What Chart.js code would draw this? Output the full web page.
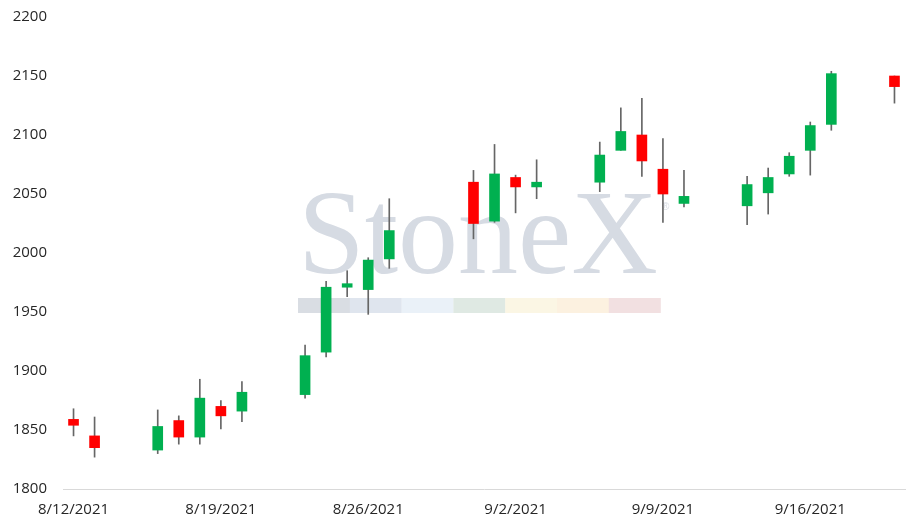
<!DOCTYPE html>
<html>
<head>
<meta charset="utf-8">
<script src="https://cdn.jsdelivr.net/npm/chart.js@4.4.0/dist/chart.umd.min.js"></script>
<style>
  html, body { margin: 0; padding: 0; background: #fff; }
  canvas { display: block; }
</style>
</head>
<body>
<canvas id="candleChart" width="920" height="529"></canvas>
<script>
// ===================
// Dados (dias de pregão)
// ===================
const dates = [
  "8/12/2021", "8/13/2021",
  "8/16/2021", "8/17/2021", "8/18/2021", "8/19/2021", "8/20/2021",
  "8/23/2021", "8/24/2021", "8/25/2021", "8/26/2021", "8/27/2021",
  "8/31/2021", "9/1/2021", "9/2/2021", "9/3/2021",
  "9/6/2021", "9/7/2021", "9/8/2021", "9/9/2021", "9/10/2021",
  "9/13/2021", "9/14/2021", "9/15/2021", "9/16/2021", "9/17/2021",
  "9/20/2021",
];
const openV = [1859, 1845, 1833, 1858, 1844, 1870, 1866, 1880, 1916, 1971, 1969, 1995,
  2060, 2027, 2064, 2056, 2060, 2087, 2100, 2071, 2042, 2040, 2051, 2067, 2087, 2109, 2150];
const highV = [1868, 1861, 1867, 1862, 1893, 1875, 1891, 1922, 1976, 1985, 1996, 2046,
  2070, 2092, 2066, 2079, 2094, 2123, 2131, 2097, 2070, 2065, 2072, 2085, 2111, 2154, 2150];
const lowV = [1845, 1827, 1830, 1838, 1838, 1851, 1857, 1877, 1912, 1963, 1948, 1987,
  2012, 2026, 2034, 2046, 2052, 2087, 2065, 2026, 2039, 2024, 2033, 2065, 2066, 2104, 2127];
const closeV = [1854, 1835, 1853, 1844, 1877, 1862, 1882, 1913, 1971, 1974, 1994, 2019,
  2025, 2067, 2056, 2060, 2083, 2103, 2078, 2050, 2048, 2058, 2064, 2082, 2108, 2152, 2141];

const yTicks = { min: 1800, max: 2200, step: 50 };
const labelEvery = 7;

// eixo de calendário: todos os dias entre o primeiro e o último pregão
const fmt = (d) => d.getMonth() + 1 + "/" + d.getDate() + "/" + d.getFullYear();
const parse = (s) => { const [m, d, y] = s.split("/").map(Number); return new Date(y, m - 1, d); };
const days = [];
for (let d = parse(dates[0]); d <= parse(dates[dates.length - 1]); d.setDate(d.getDate() + 1)) {
  days.push(fmt(d));
}

const bodies = days.map((lbl) => {
  const i = dates.indexOf(lbl);
  return i < 0 ? null : [openV[i], closeV[i]];
});
const wicks = days.map((lbl) => {
  const i = dates.indexOf(lbl);
  return i < 0 ? null : [lowV[i], highV[i]];
});
const bodyColors = days.map((lbl) => {
  const i = dates.indexOf(lbl);
  return i >= 0 && closeV[i] >= openV[i] ? "#00B050" : "#FF0000";
});

// marca d'água StoneX
const watermark = {
  id: "watermark",
  beforeDatasetsDraw(chart) {
    const { ctx, chartArea } = chart;
    const x0 = chartArea.left + 235;
    ctx.save();
    ctx.fillStyle = "#d6dbe3";
    ctx.font = '120px "Liberation Serif"';
    ctx.textBaseline = "alphabetic";
    ctx.fillText("StoneX", x0, 273);
    ctx.font = '10px "Liberation Sans"';
    ctx.fillText("®", x0 + 364, 210);
    const segs = ["#d9dde3", "#dfe5ee", "#eaf1f8", "#dfe9e3", "#fbf6e4", "#fcf1e0", "#f2e0e1"];
    segs.forEach((c, k) => {
      ctx.fillStyle = c;
      ctx.fillRect(x0 + k * 51.8, 298, 52, 15);
    });
    ctx.restore();
  },
};

new Chart(document.getElementById("candleChart"), {
  type: "bar",
  data: {
    labels: days,
    datasets: [
      {
        label: "Corpo",
        data: bodies,
        backgroundColor: bodyColors,
        barThickness: 10,
        grouped: false,
      },
      {
        label: "Pavio",
        data: wicks,
        backgroundColor: "#666666",
        barThickness: 1,
        grouped: false,
      },
    ],
  },
  options: {
    responsive: false,
    animation: false,
    layout: { padding: { top: 17, right: 15, left: 0, bottom: 0 } },
    plugins: { legend: { display: false }, tooltip: { enabled: false } },
    scales: {
      x: {
        grid: { display: false, drawTicks: false },
        border: { display: true, color: "#d9d9d9", width: 1 },
        afterFit: (s) => { s.height = 40; },
        ticks: {
          autoSkip: false,
          maxRotation: 0,
          padding: 12,
          color: "#262626",
          font: { family: "Open Sans", size: 15 },
          callback: (v, i) => (i % labelEvery === 0 ? days[i] : ""),
        },
      },
      y: {
        min: yTicks.min,
        max: yTicks.max,
        grid: { display: false, drawTicks: false },
        border: { display: false },
        afterFit: (s) => { s.width = 63; s.paddingTop = 0; s.paddingBottom = 0; },
        ticks: {
          stepSize: yTicks.step,
          padding: 16,
          color: "#262626",
          font: { family: "Open Sans", size: 15 },
          callback: (v) => String(v),
        },
      },
    },
  },
  plugins: [watermark],
});
</script>
</body>
</html>
